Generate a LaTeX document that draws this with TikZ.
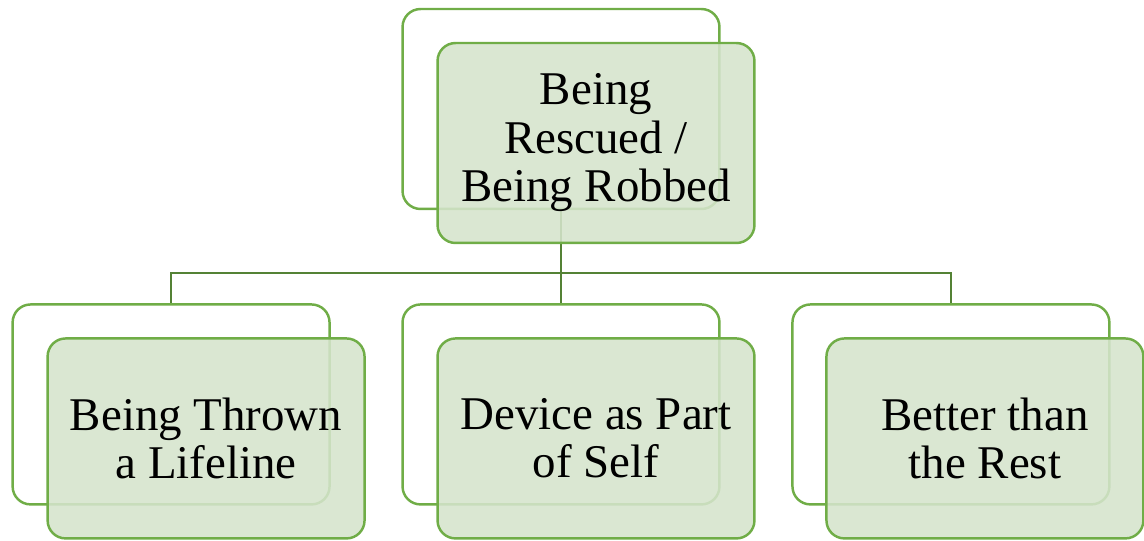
\documentclass[tikz,border=0pt]{standalone}
\usepackage{fontspec}
\setmainfont{Liberation Serif}
\usepackage{tikz}
\usetikzlibrary{positioning}
\definecolor{boxgreen}{RGB}{112,173,71}
\definecolor{linkgreen}{RGB}{84,130,53}
\definecolor{leafgreen}{RGB}{213,228,204}
\tikzset{%
  back/.style  = {draw=boxgreen, line width=1.4pt, fill=white, rectangle,
    rounded corners=0.36cm, minimum width=6.34cm, minimum height=4cm},
  front/.style = {back, fill=leafgreen, fill opacity=0.88, text opacity=1,
    align=center, font=\fontsize{26.7}{27.6}\selectfont},
  link/.style  = {draw=linkgreen, line width=1.4pt}
}
\begin{document}
\begin{tikzpicture}[x=0.02cm, y=0.02cm]
  \useasboundingbox (0,0) rectangle (1144,541);

  % back boxes
  \draw node at (561,432) [back] (topback) {};
  \draw node [back, below of=topback, node distance=5.91cm] (midback) {};
  \draw node [back, left of=midback, node distance=7.8cm] (leftback) {};
  \draw node [back, right of=midback, node distance=7.8cm] (rightback) {};

  % connectors
  \draw[link] (topback.south) -- ++(0,-63) coordinate (bus);
  \draw[link] (bus) -| (leftback.north);
  \draw[link] (bus) -| (rightback.north);
  \draw[link] (bus) -- (midback.north);

  % front boxes
  \draw node at ([shift={(35,-34)}]topback) [front] (rescued) {Being\\Rescued /\\Being Robbed};
  \draw node at ([shift={(35,-34)}]leftback) [front] (lifeline) {Being Thrown\\a Lifeline};
  \draw node at ([shift={(35,-34)}]midback) [front] (device) {Device as Part\\of Self};
  \draw node at ([shift={(34,-34)}]rightback) [front] (better) {Better than\\the Rest};

\end{tikzpicture}
\end{document}
